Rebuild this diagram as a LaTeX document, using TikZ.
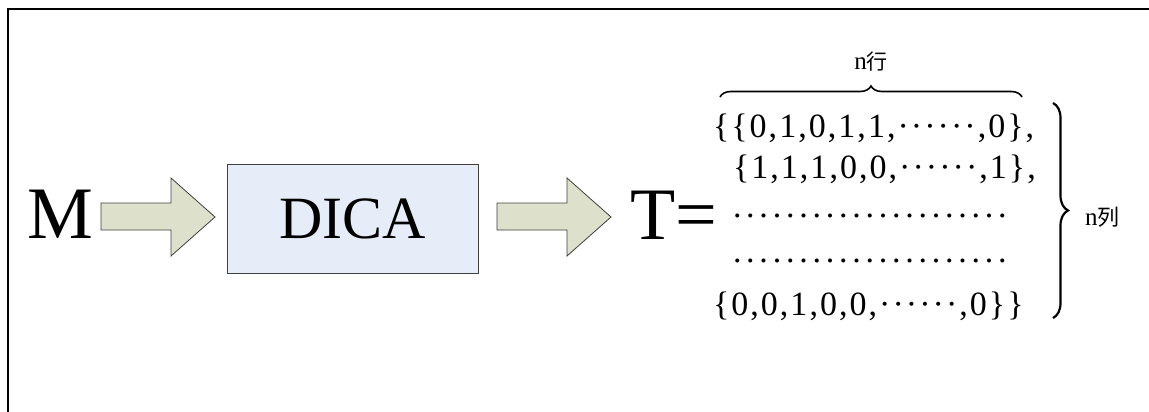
\documentclass[tikz,border=0pt]{standalone}
\usepackage{fontspec}
\setmainfont{Liberation Serif}
\newfontfamily\cjk{Noto Sans CJK SC}
\usetikzlibrary{calc,decorations.pathreplacing}
\definecolor{arrowfill}{HTML}{DDE1CB}
\definecolor{boxfill}{HTML}{E6EDF8}

\begin{document}
\begin{tikzpicture}[
	x=1pt,y=-1pt,
	every node/.style={inner sep=0pt,outer sep=0pt},
	blockarrow/.style={draw=black!75,fill=arrowfill,line width=0.8pt,line join=miter},
	dicabox/.style={draw=black!75,fill=boxfill,line width=0.8pt,minimum width=251pt,minimum height=109pt},
	big/.style={anchor=base,font=\fontsize{74}{74}\selectfont},
	row/.style={anchor=base west,font=\fontsize{34}{34}\selectfont\addfontfeature{LetterSpace=6}},
	dotrow/.style={anchor=base west,font=\fontsize{34}{34}\selectfont\addfontfeature{LetterSpace=14}},
	lbl/.style={font=\fontsize{25}{25}\selectfont},
	bracket/.style={decorate,decoration={brace,amplitude=#1}}
]
%\draw[step=50,black!10!white] (0,0)grid(1149,412);
\useasboundingbox (0,0) rectangle (1149,412);
\draw[line width=2pt] (8,412) |- (1149,9);
\node[big] (M) at (60,238) {M};
\node[dicabox,font=\fontsize{60}{60}\selectfont] (dica) at (352.5,218.5) {DICA};
\node[big] (T) at (674,239) {T=};
\foreach \s in {101,497}
	\draw[blockarrow] (\s,203)--++(70,0)--++(0,-25)--++(44,39)--++(-44,39)--++(0,-26)--++(-70,0)--cycle;
\node[row] (r1) at (713,137) {\{\{0,1,0,1,1,······,0\},};
\node[row] (r2) at (733,178) {\{1,1,1,0,0,······,1\},};
\node[dotrow] (r3) at (733,217) {.....................};
\node[dotrow] (r4) at (733,262) {.....................};
\node[row] (r5) at (713,315) {\{0,0,1,0,0,······,0\}\}};
\draw[bracket=11,line width=1.6pt] (720,97)coordinate(b1) -- (1022,97)coordinate(b2);
\draw[bracket=15,line width=2.2pt] (1053,103)coordinate(c1) -- (1053,318)coordinate(c2);
\node[lbl,anchor=base] (nhang) at ($(b1)!0.5!(b2)+(0,-27)$) {n{\cjk\fontsize{21}{21}\selectfont 行}};
\node[lbl,anchor=base west] (nlie) at ($(c1)!0.5!(c2)+(32,15)$) {n{\cjk\fontsize{22}{22}\selectfont 列}};
\end{tikzpicture}
\end{document}
